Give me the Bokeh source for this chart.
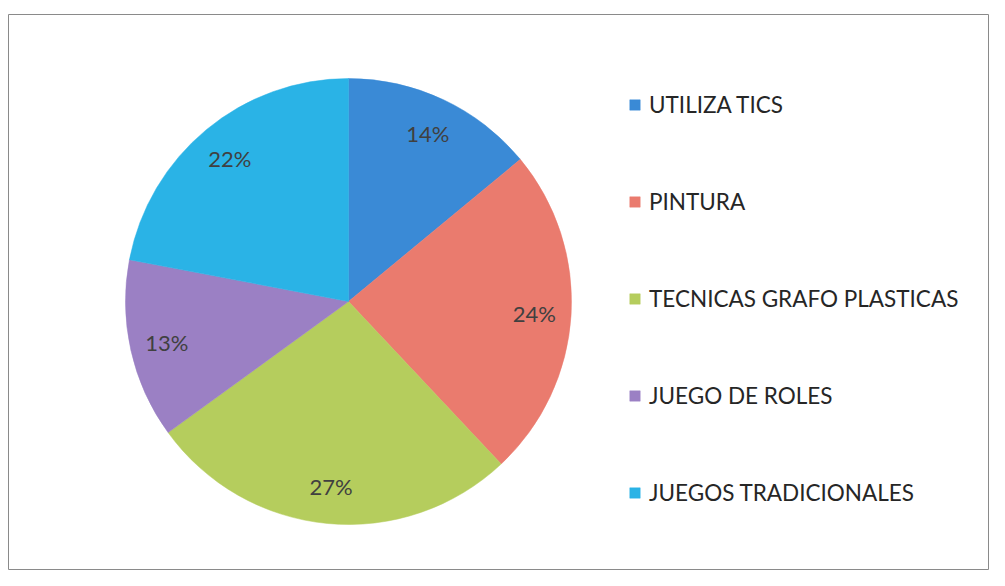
import math
from math import pi
from bokeh.plotting import figure
from bokeh.models import ColumnDataSource, Range1d, Legend, LegendItem
from bokeh.core.properties import value
from bokeh.embed import file_html
from bokeh.resources import INLINE

categories = ["UTILIZA TICS", "PINTURA", "TECNICAS GRAFO PLASTICAS", "JUEGO DE ROLES", "JUEGOS TRADICIONALES"]
percentages = [14, 24, 27, 13, 22]
colors = ["#3a8ad6", "#ea7b6e", "#b5cd5d", "#9b80c4", "#2ab3e6"]

W, H = 989, 570
LEFT, TOP = 8, 14
IW, IH = W - LEFT, H - TOP
p = figure(width=W, height=H, output_backend="svg", toolbar_location=None,
           x_range=Range1d(0, IW), y_range=Range1d(0, IH),
           min_border_left=LEFT, min_border_right=0, min_border_bottom=0, min_border_top=TOP)
p.axis.visible = False
p.grid.visible = False
p.outline_line_color = "#8a8a8a"
p.outline_line_width = 1
p.background_fill_color = "white"
p.border_fill_color = "white"

cx, cy, R = 340, IH - (301 - TOP), 223
total = sum(percentages)
starts, ends, mids = [], [], []
a = pi / 2
for v in percentages:
    s = a
    e = a - v / total * 2 * pi
    starts.append(e)
    ends.append(s)
    mids.append((s + e) / 2)
    a = e

lx = [cx + 0.835 * R * math.cos(m) for m in mids]
ly = [cy + 0.835 * R * math.sin(m) for m in mids]
src = ColumnDataSource(dict(lx=lx, ly=ly, lab=[f"{v}%" for v in percentages]))

renderers = []
for i in range(len(categories)):
    r = p.wedge(x=cx, y=cy, radius=R, radius_units="screen",
                start_angle=starts[i], end_angle=ends[i],
                fill_color=colors[i], line_color=colors[i], line_width=0.5)
    renderers.append(r)

p.text(x="lx", y="ly", text="lab", source=src, text_align="center", text_baseline="middle",
       text_font=value("Lato"), text_font_size="22px", text_color="#404040")

legend = Legend(items=[LegendItem(label=categories[i], renderers=[renderers[i]]) for i in range(len(categories))],
                location=(620, 64), orientation="vertical",
                glyph_width=13, glyph_height=13, label_height=24, spacing=70,
                label_standoff=8, padding=0, margin=0,
                border_line_color=None, background_fill_alpha=0,
                label_text_font="Lato", label_text_font_size="22.5px", label_text_color="#262626")
p.add_layout(legend)

open("out.html", "w").write(file_html(p, INLINE))
